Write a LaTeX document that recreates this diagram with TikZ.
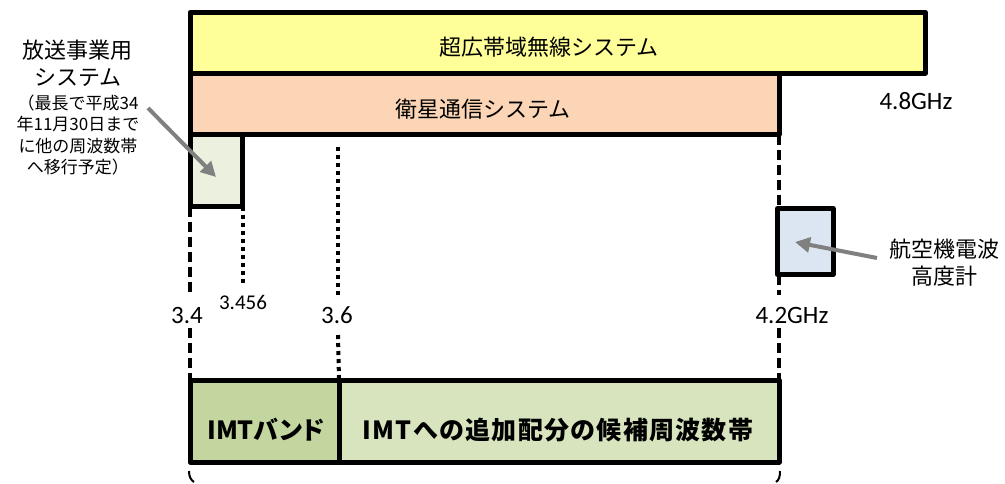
\documentclass[tikz,border=0pt]{standalone}
\usepackage{fontspec}
\setmainfont{Carlito}
\newfontfamily\jp{Noto Sans CJK JP}
\usetikzlibrary{arrows.meta,calc}
\definecolor{uwbc}{HTML}{FFFF99}
\definecolor{satc}{HTML}{FBD5B5}
\definecolor{bcc}{HTML}{EBF1DE}
\definecolor{altc}{HTML}{DCE6F2}
\definecolor{imtc}{HTML}{C4D6A0}
\definecolor{candc}{HTML}{D7E4BD}
\definecolor{arrowgray}{HTML}{808080}
\begin{document}
\begin{tikzpicture}[x=1pt,y=-1pt,
  box/.style={draw=black,line width=5pt,line join=round,inner sep=0pt,outer sep=0pt,anchor=north west},
  lbl/.style={font=\jp\fontsize{22}{27}\selectfont,align=center,inner sep=0pt},
  smalllbl/.style={font=\jp\fontsize{17}{21.2}\selectfont,align=center,inner sep=0pt},
  boldlbl/.style={font=\jp\bfseries\fontsize{25}{28}\selectfont,inner sep=0pt},
  num/.style={font=\fontsize{25}{28}\selectfont,inner sep=0pt},
  smallnum/.style={font=\fontsize{21}{24}\selectfont,inner sep=0pt},
  dashln/.style={line width=3.5pt,dash pattern=on 10pt off 5pt},
  dotln/.style={line width=4pt,dash pattern=on 4pt off 4pt},
  garrow/.style={draw=arrowgray,line width=4pt,-{Triangle[length=15pt,width=15pt]}}]
\useasboundingbox (0,0) rectangle (1005,483);

% bars
\node[box,fill=uwbc,minimum width=735.5pt,minimum height=60.5pt] (uwb) at (190,12.5) {};
\node[box,fill=satc,minimum width=589pt,minimum height=61.5pt] (sat) at (190,73) {};
\node[box,fill=bcc,minimum width=52.5pt,minimum height=72pt] (bcast) at (190,134.5) {};
\node[box,fill=altc,minimum width=55.5pt,minimum height=66pt] (alt) at (777.5,208.5) {};
\node[box,fill=imtc,minimum width=149pt,minimum height=82pt] (imt) at (190,380) {};
\node[box,fill=candc,minimum width=440pt,minimum height=82pt] (cand) at (339,380) {};

% bar texts
\node[lbl] (uwbt) at (549,47) {超広帯域無線システム};
\node[lbl] (satt) at (483,109) {衛星通信システム};
\node[boldlbl] (imtt) at (266,430) {\addfontfeature{RawFeature=+palt}IMTバンド};
\node[boldlbl] (candt) at (558,430) {\addfontfeature{LetterSpace=5}IMTへの追加配分の候補周波数帯};

% guide lines
\coordinate (a1) at (190,295);
\coordinate (a2) at (190,328);
\coordinate (b1) at (242.5,283);
\coordinate (c0) at (338,147);
\coordinate (c1) at (338,295);
\coordinate (c2) at (338,335);
\coordinate (d0) at (779,134.5);
\coordinate (d1) at (779,208.5);
\coordinate (d2) at (779,274.5);
\coordinate (d3) at (779,295);
\coordinate (d4) at (779,328);
\draw[dashln] (bcast.south west) -- (a1);
\draw[dashln] (a2) -- (imt.north west);
\draw[dotln] (bcast.south east) -- (b1);
\draw[dotln] (c0) -- (c1);
\draw[dotln] (c2) -- (imt.north east);
\draw[dashln] (d0) -- (d1);
\draw[dashln] (d2) -- (d3);
\draw[dashln] (d4) -- (cand.north east);

% frequency labels
\node[num] (f34) at (187,315) {3.4};
\node[smallnum] (f3456) at (243,302) {3.456};
\node[num] (f36) at (337,315) {3.6};
\node[num] (f42) at (792,315) {4.2GHz};
\node[num] (f48) at (916,101) {4.8GHz};

% side labels
\node[lbl] (bct) at (78,63.5) {放送事業用\\システム};
\node[smalllbl] (bcnote) at (78,135) {（最長で平成34\\年11月30日まで\\に他の周波数帯\\へ移行予定）};
\node[lbl] (altt) at (944,263) {航空機電波\\高度計};

% arrows
\coordinate (bcs) at (148,108);
\coordinate (bce) at (216,177);
\coordinate (als) at (877,258);
\coordinate (ale) at (795,242);
\draw[garrow] (bcs) -- (bce);
\draw[garrow] (als) -- (ale);

% brace remnants
\coordinate (bl1) at (189,471);
\coordinate (bl2) at (194,482);
\coordinate (br1) at (780,471);
\coordinate (br2) at (776,482);
\draw[line width=2pt] (bl1) .. controls (189,477) and (191,480) .. (bl2);
\draw[line width=2pt] (br1) .. controls (780,477) and (779,480) .. (br2);
\end{tikzpicture}
\end{document}
